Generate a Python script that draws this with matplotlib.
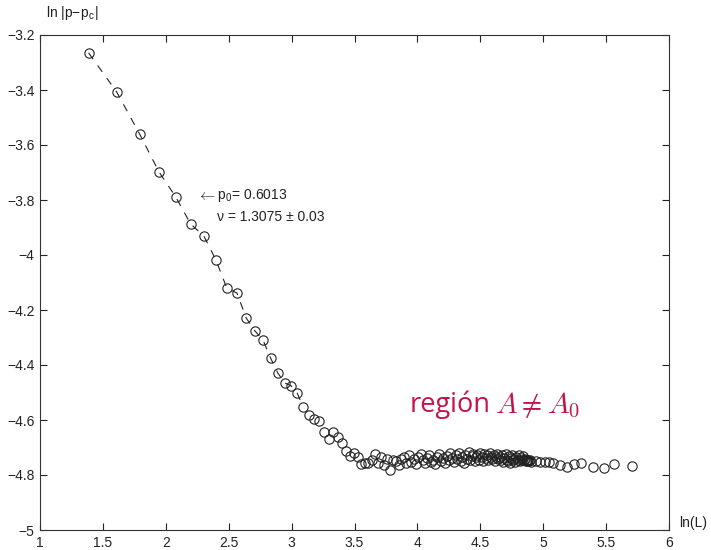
import numpy as np
import matplotlib
matplotlib.use("Agg")
import matplotlib.pyplot as plt
from matplotlib.ticker import FuncFormatter

plt.rcParams['font.family'] = ['Liberation Sans', 'DejaVu Sans']
plt.rcParams['mathtext.fontset'] = 'cm'

# System sizes L (x = ln L)
L_sizes = list(range(4, 136)) + [140, 145, 150, 155, 160, 170, 180, 190, 200, 220, 240, 260, 300]

# ln |p - p_c|
ln_dp = [
    -3.265, -3.407, -3.560, -3.698, -3.789, -3.887, -3.931, -4.018, -4.120, -4.138,   # L 4-13
    -4.229, -4.276, -4.309, -4.375, -4.429, -4.465, -4.476, -4.502, -4.553, -4.582,   # L 14-23
    -4.596, -4.604, -4.644, -4.669, -4.644, -4.662, -4.684, -4.711, -4.731, -4.720,   # L 24-33
    -4.735, -4.760, -4.756, -4.756, -4.745, -4.724, -4.756, -4.735, -4.765, -4.740,   # L 34-43
    -4.782, -4.745, -4.748, -4.762, -4.742, -4.735, -4.756, -4.729, -4.751, -4.740,   # L 44-53
    -4.760, -4.733, -4.722, -4.747, -4.758, -4.738, -4.728, -4.751, -4.744, -4.761,   # L 54-63
    -4.733, -4.722, -4.749, -4.739, -4.756, -4.730, -4.745, -4.720, -4.737, -4.752,   # L 64-73
    -4.728, -4.742, -4.719, -4.748, -4.733, -4.755, -4.726, -4.740, -4.718, -4.746,   # L 74-83
    -4.731, -4.722, -4.750, -4.736, -4.727, -4.744, -4.719, -4.733, -4.748, -4.724,   # L 84-93
    -4.739, -4.729, -4.745, -4.720, -4.735, -4.742, -4.728, -4.750, -4.733, -4.722,   # L 94-103
    -4.741, -4.736, -4.745, -4.729, -4.752, -4.738, -4.725, -4.744, -4.748, -4.732,   # L 104-113
    -4.756, -4.739, -4.727, -4.746, -4.741, -4.753, -4.733, -4.745, -4.726, -4.749,   # L 114-123
    -4.738, -4.744, -4.731, -4.747, -4.742, -4.750, -4.744, -4.748, -4.746, -4.750,   # L 124-133
    -4.747, -4.751,                                                                   # L 134-135
    -4.749, -4.752, -4.751, -4.753, -4.756, -4.764, -4.771, -4.760, -4.756, -4.771,   # L 140-220
    -4.775, -4.760, -4.767,                                                           # L 240-300
]

n_fit = 19  # points joined by the dashed line (L = 4..22)

x_ticks = [1, 1.5, 2, 2.5, 3, 3.5, 4, 4.5, 5, 5.5, 6]
y_ticks = [-5, -4.8, -4.6, -4.4, -4.2, -4, -3.8, -3.6, -3.4, -3.2]

x = np.log(np.array(L_sizes, dtype=float))
y = np.array(ln_dp)

fig = plt.figure(figsize=(7.11, 5.5), dpi=100)
ax = fig.add_axes([40/711, 20/550, 629/711, 495/550])

ax.plot(x[:n_fit], y[:n_fit], linestyle=(0, (7, 7)), color='#222222', linewidth=0.8, zorder=2)
ax.plot(x, y, linestyle='none', marker='o', markersize=6.7, markerfacecolor='none',
        markeredgecolor='#222222', markeredgewidth=0.8, zorder=3)

ax.set_xlim(1, 6)
ax.set_ylim(-5, -3.2)
ax.set_xticks(x_ticks)
ax.set_yticks(y_ticks)
fmt = FuncFormatter(lambda v, p: ('%g' % v).replace('-', '\u2212'))
ax.xaxis.set_major_formatter(fmt)
ax.yaxis.set_major_formatter(fmt)
ax.tick_params(direction='in', top=True, right=True, length=5, width=0.8,
               labelsize=10, colors='#222222', pad=4)
for s in ax.spines.values():
    s.set_color('#333333')
    s.set_linewidth(0.8)

fig.text(46/711, 1 - 13/550, 'ln |p\u2212p$_\\mathregular{c}$|', fontsize=10, ha='left', va='center', color='#222222')
fig.text(679/711, 1 - 523/550, 'ln(L)', fontsize=10, ha='left', va='center', color='#222222')

ax.text(2.25, -3.787, r'$\leftarrow$', fontsize=11, ha='left', va='center', color='#222222')
ax.text(2.41, -3.785, 'p$_\\mathregular{0}$= 0.6013', fontsize=10, ha='left', va='center', color='#222222')
ax.text(2.41, -3.862, '\u03bd = 1.3075 \u00b1 0.03', fontsize=10, ha='left', va='center', color='#222222')

ax.text(3.94, -4.545, 'región', fontsize=19.5, ha='left', va='center',
        color='#C5124A', family=['Open Sans', 'DejaVu Sans'])
ax.text(4.62, -4.545, r'$A \neq A_0$', fontsize=21, ha='left', va='center', color='#C5124A')

fig.savefig('out.png', dpi=100)
